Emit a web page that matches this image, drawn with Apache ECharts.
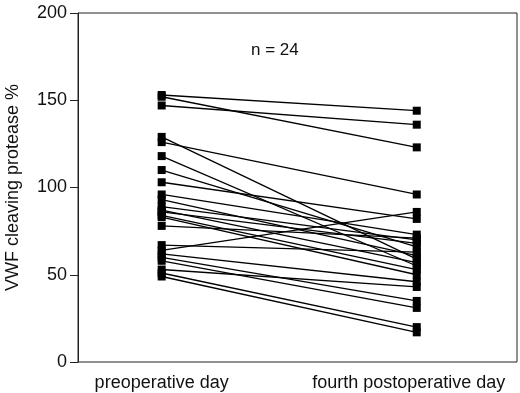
<!DOCTYPE html>
<html>
<head>
<meta charset="utf-8">
<script src="https://cdn.jsdelivr.net/npm/echarts@6/dist/echarts.min.js"></script>
<style>
html, body { margin: 0; padding: 0; background: #fff; }
#chart { width: 520px; height: 393px; }
</style>
</head>
<body>
<div id="chart"></div>
<script>
// paired values, one line per patient
const dayLabels = ['preoperative day', 'fourth postoperative day']
const preValues = [153, 152, 147, 129, 126, 118, 110, 103, 96, 93, 89, 87, 86, 84, 83, 78, 67, 64, 62, 60, 58, 53, 51, 49]
const postValues = [144, 123, 136, 59, 96, 55, 66, 82, 73, 61, 70, 57, 68, 53, 50, 71, 63, 86, 46, 35, 31, 43, 20, 17]
const yTicks = [0, 50, 100, 150, 200]

const font = 'Liberation Sans, Arial, sans-serif'

const series = preValues.map((pre, i) => {
    return {
        type: 'line',
        data: [[0, pre], [1, postValues[i]]],
        symbol: 'rect',
        symbolSize: 8,
        silent: true,
        animation: false,
        lineStyle: { color: '#000', width: 1.3 },
        itemStyle: { color: '#000' }
    }
})

const option = {
    backgroundColor: '#fff',
    grid: {
        left: 78,
        right: 3,
        top: 13,
        bottom: 31,
        outerBoundsMode: 'none',
        show: true,
        borderColor: '#222',
        borderWidth: 1
    },
    xAxis: {
        type: 'value',
        min: -0.328,
        max: 1.393,
        axisLine: { show: false },
        axisTick: { show: false },
        splitLine: { show: false },
        axisLabel: {
            customValues: [0, 1],
            margin: 12,
            fontSize: 18,
            fontFamily: font,
            color: '#111',
            formatter: v => (v === 0 ? dayLabels[0] : '{r|' + dayLabels[1] + '}'),
            rich: {
                r: { fontSize: 18, fontFamily: font, color: '#111', padding: [0, 16, 0, 0] }
            }
        }
    },
    yAxis: {
        type: 'value',
        min: 0,
        max: 200,
        interval: 50,
        name: 'VWF cleaving protease %',
        nameLocation: 'middle',
        nameGap: 56,
        nameTextStyle: { fontSize: 18, fontFamily: font, color: '#111' },
        axisLine: { show: true, onZero: false, lineStyle: { color: '#222', width: 1 } },
        axisTick: { show: true, length: 8, lineStyle: { color: '#222' } },
        splitLine: { show: false },
        axisLabel: {
            margin: 11,
            fontSize: 18,
            fontFamily: font,
            color: '#111',
            formatter: v => (yTicks.includes(v) ? String(v) : '')
        }
    },
    graphic: [
        {
            type: 'text',
            left: 251,
            top: 42,
            style: { text: 'n = 24', fontSize: 17, fontFamily: font, fill: '#111' }
        }
    ],
    series: series
}

const chart = echarts.init(document.getElementById('chart'), null, { renderer: 'canvas' })
chart.setOption(option)
</script>
</body>
</html>
